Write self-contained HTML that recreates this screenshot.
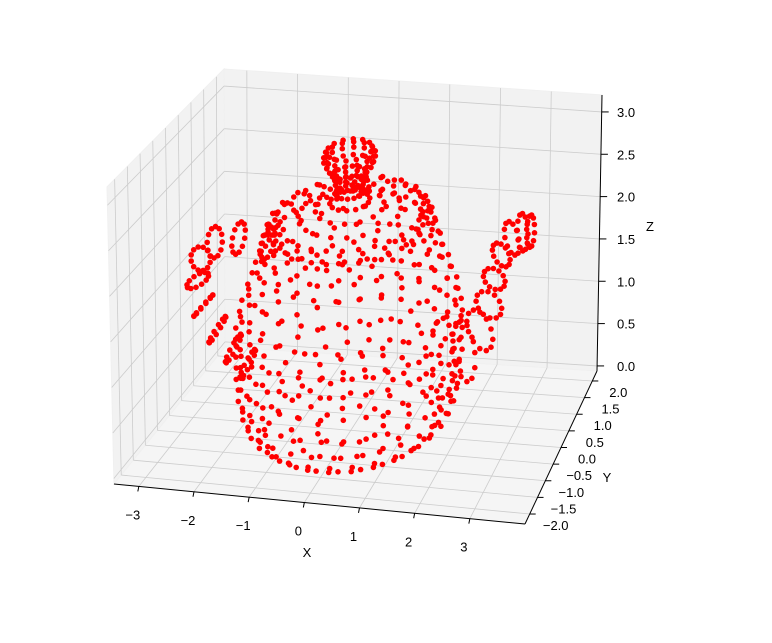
<!DOCTYPE html>
<html><head><meta charset="utf-8"><style>
body{margin:0;background:#fff;}
svg text{font-family:"Liberation Sans",sans-serif;font-size:13px;fill:#000;}
</style></head><body>
<svg id="chart" width="772" height="638" viewBox="0 0 772 638" xmlns="http://www.w3.org/2000/svg">
<g id="panes"></g><g id="grid"></g><g id="axes"></g><g id="pts"></g>
</svg>
<script>
// axis data
const xTicks=[-3,-2,-1,0,1,2,3];
const yTicks=[-2.0,-1.5,-1.0,-0.5,0.0,0.5,1.0,1.5,2.0];
const zTicks=[0.0,0.5,1.0,1.5,2.0,2.5,3.0];
const xLim=[-3.45,4.0], yLim=[-2.3,2.3], zLim=[-0.06,3.2];
// teapot body profile rings (height, radius)
const bodyZ=[0.0,0.0,0.0,0.05,0.15,0.3,0.5,0.75,1.0,1.2,1.45,1.7,1.95,2.1,2.25,2.32,2.38];
const bodyR=[0.6,1.05,1.5,1.62,1.8,1.9,1.97,2.0,2.0,2.0,1.92,1.78,1.64,1.56,1.5,1.43,1.4];
// lid + knob rings
const lidZ=[2.25,2.4,2.42,2.48,2.55,2.65,2.75,2.85,2.95,3.02,3.08,3.13];
const lidR=[1.3,1.3,0.9,0.6,0.35,0.25,0.25,0.3,0.4,0.45,0.45,0.4];
// spout centerline (x, z, radius)
const spoutX=[1.75,2.15,2.45,2.62,2.72,2.85,3.05,3.25,3.4];
const spoutZ=[0.85,0.95,1.2,1.5,1.8,2.08,2.28,2.36,2.38];
const spoutR=[0.42,0.34,0.28,0.24,0.2,0.18,0.2,0.2,0.17];
// handle centerline (x, z)
const handleX=[-1.55,-2.1,-2.55,-2.82,-2.88,-2.78,-2.52,-2.22,-1.95];
const handleZ=[1.99,2.02,1.95,1.75,1.5,1.22,0.96,0.76,0.6];

const C={'000':[114,484],'100':[525,524],'110':[597,371],'010':[225,347],
'001':[107,187],'101':[524,229],'111':[602,95],'011':[224,69]};
function P(x,y,z){
 const u=(x-xLim[0])/(xLim[1]-xLim[0]),v=(y-yLim[0])/(yLim[1]-yLim[0]),w=(z-zLim[0])/(zLim[1]-zLim[0]);
 let r=[0,0];
 for(const i of[0,1])for(const j of[0,1])for(const k of[0,1]){
  const wt=(i?u:1-u)*(j?v:1-v)*(k?w:1-w);const c=C[''+i+j+k];
  r[0]+=wt*c[0];r[1]+=wt*c[1];}
 return r;}
const NS='http://www.w3.org/2000/svg';
function mk(tag,attrs,parent){const e=document.createElementNS(NS,tag);for(const k in attrs)e.setAttribute(k,attrs[k]);document.getElementById(parent).appendChild(e);return e;}
function poly(pts,fill,name){const e=mk('polygon',{points:pts.map(p=>p.join(',')).join(' '),fill:fill,stroke:'#f0f0f0'},'panes');

}
const[x0,x1]=xLim,[y0,y1]=yLim,[z0,z1]=zLim;
poly([P(x0,y1,z0),P(x1,y1,z0),P(x1,y1,z1),P(x0,y1,z1)],'#f2f2f2','back-pane');
poly([P(x0,y0,z0),P(x0,y1,z0),P(x0,y1,z1),P(x0,y0,z1)],'#f2f2f2','left-pane');
poly([P(x0,y0,z0),P(x1,y0,z0),P(x1,y1,z0),P(x0,y1,z0)],'#f5f5f5','floor-pane');
function gl(a,b,name){const e=mk('line',{x1:a[0],y1:a[1],x2:b[0],y2:b[1],stroke:'#cccccc','stroke-width':0.8},'grid');

}
xTicks.forEach(x=>{gl(P(x,y0,z0),P(x,y1,z0),'x-grid');gl(P(x,y1,z0),P(x,y1,z1),'x-grid');});
yTicks.forEach(y=>{gl(P(x0,y,z0),P(x1,y,z0),'y-grid');gl(P(x0,y,z0),P(x0,y,z1),'y-grid');});
zTicks.forEach(z=>{gl(P(x0,y1,z),P(x1,y1,z),'z-grid');gl(P(x0,y0,z),P(x0,y1,z),'z-grid');});
function al(a,b,name){const e=mk('line',{x1:a[0],y1:a[1],x2:b[0],y2:b[1],stroke:'#000','stroke-width':1},'axes');

}
function tx(s,x,y,anchor,name){const e=mk('text',{x:x,y:y,'text-anchor':anchor},'axes');e.textContent=s;

}
const fmt=v=>(v<0?'\u2212':'')+Math.abs(v);
const fmt1=v=>(v<0?'\u2212':'')+Math.abs(v).toFixed(1);
al(P(x0,y0,z0),P(x1,y0,z0),'x-axis-line');
al(P(x1,y0,z0),P(x1,y1,z0),'y-axis-line');
al(P(x1,y1,z0),P(x1,y1,z1),'z-axis-line');
xTicks.forEach(x=>{const p=P(x,y0,z0);al(p,[p[0]-1,p[1]+5],'x-tick');tx(fmt(x),p[0]-6,p[1]+33,'middle','x-tick-label');});
yTicks.forEach(y=>{const p=P(x1,y,z0);al(p,[p[0]+6,p[1]],'y-tick');tx(fmt1(y),p[0]+26,p[1]+16,'middle','y-tick-label');});
zTicks.forEach(z=>{const p=P(x1,y1,z);al(p,[p[0]+7,p[1]],'z-tick');tx(fmt1(z),617,p[1]+5,'start','z-tick-label');});
tx('X',307,557,'middle','x-axis-title');
tx('Y',607,482,'middle','y-axis-title');
tx('Z',650,231,'middle','z-axis-title');
function dot(x,y,z,name){const p=P(x,y,z);const e=mk('circle',{cx:p[0].toFixed(1),cy:p[1].toFixed(1),r:2.8,fill:'#ff0000'},'pts');

}
bodyZ.forEach((z,i)=>{const n=Math.max(12,Math.round(bodyR[i]*16));for(let k=0;k<n;k++){const t=2*Math.PI*k/n+0.1;dot(bodyR[i]*Math.cos(t),bodyR[i]*Math.sin(t),z,'body-point');}});
lidZ.forEach((z,i)=>{const n=Math.max(14,Math.round(lidR[i]*22));for(let k=0;k<n;k++){const t=2*Math.PI*k/n;dot(lidR[i]*Math.cos(t),lidR[i]*Math.sin(t),z,'lid-point');}});
function tube(X,Z,R,yr,name){for(let i=0;i<X.length;i++){const a=Math.max(0,i-1),b=Math.min(X.length-1,i+1);
 let dx=X[b]-X[a],dz=Z[b]-Z[a];const L=Math.hypot(dx,dz);const nx=-dz/L,nz=dx/L;
 const n=12;for(let k=0;k<n;k++){const t=2*Math.PI*k/n;const r=R[i];dot(X[i]+r*Math.cos(t)*nx,r*yr*Math.sin(t),Z[i]+r*Math.cos(t)*nz,name);}}}
tube(spoutX,spoutZ,spoutR,1.3,'spout-point');
tube(handleX,handleZ,handleX.map(()=>0.16),1.8,'handle-point');
</script>
</body></html>
